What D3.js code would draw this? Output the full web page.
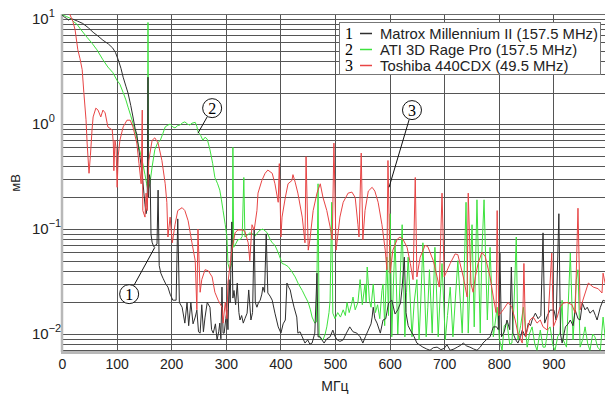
<!DOCTYPE html>
<html>
<head>
<meta charset="utf-8">
<script src="https://cdn.jsdelivr.net/npm/d3@7"></script>
<style>
  body { margin: 0; background: #fff; }
  text { font-family: Arial, "Liberation Sans", sans-serif; }
</style>
</head>
<body>
<div id="chart"></div>
<script>
// spectrum readings: [MHz, mV]
const matroxPts = [[0,11.0],[5,10.4],[8,10.2],[12,9.8],[16,10.1],[20,10.0],[28,9.6],[38,9.1],[48,8.3],[57,7.5],[66,6.9],[75,6.3],[85,5.8],[93,5.3],[98,4.8],[103,4.1],[108,3.4],[112,2.8],[117,2.3],[121,1.97],[126,1.5],[130,1.17],[134,0.9],[137,0.8],[140,0.6],[143,0.48],[146,0.36],[148,0.29],[150,0.22],[152,0.17],[154,0.14],[156,0.16],[157.5,2.8],[158.5,0.2],[160,0.33],[161.5,0.3],[163,0.09],[165,0.075],[168,0.068],[171,0.07],[174,0.072],[176,0.235],[178,0.045],[181,0.038],[185,0.034],[190,0.03],[194,0.028],[198,0.024],[203,0.021],[209,0.021],[212,0.125],[215,0.02],[220,0.018],[225,0.0127],[229,0.02],[232,0.012],[236,0.02],[240,0.0125],[244,0.0145],[247,0.0169],[250,0.0105],[253,0.0102],[256,0.019],[259,0.0105],[262,0.0145],[266,0.02],[271,0.018],[274,0.011],[277,0.0102],[281,0.0125],[284,0.0088],[287,0.0105],[289,0.0127],[291,0.009],[293,0.028],[295,0.0102],[297,0.0102],[300,0.014],[302,0.017],[304,0.011],[306,0.033],[308,0.02],[311,0.117],[313,0.022],[315,0.026],[318,0.019],[321,0.0306],[324,0.016],[326,0.0136],[329,0.015],[332,0.0127],[335,0.014],[339,0.0158],[342,0.0263],[346,0.0136],[349,0.016],[352,0.1],[354,0.02],[357,0.018],[360,0.02],[363,0.021],[366,0.024],[368,0.028],[371,0.025],[374,0.09],[377,0.0246],[381,0.023],[385,0.021],[390,0.0158],[396,0.0117],[401,0.0102],[405,0.0125],[409,0.0136],[412,0.0306],[415,0.028],[418,0.0263],[421,0.022],[425,0.018],[430,0.0145],[432,0.0102],[436,0.0105],[440,0.0094],[445,0.0082],[450,0.0088],[454,0.008],[458,0.0082],[463,0.0102],[467,0.038],[469,0.0094],[473,0.0094],[476,0.0088],[480,0.0082],[485,0.009],[491,0.0094],[496,0.0109],[500,0.0095],[504,0.0088],[509,0.0085],[515,0.0088],[520,0.01],[527,0.0117],[533,0.0105],[540,0.0102],[546,0.0094],[551,0.0082],[556,0.0095],[561,0.0109],[566,0.0125],[568,0.0145],[570,0.018],[573,0.014],[577,0.0127],[583,0.0102],[588,0.0136],[593,0.014],[598,0.0197],[604,0.021],[610,0.0155],[615,0.017],[620,0.0197],[623,0.028],[627,0.054],[630,0.016],[634,0.012],[638,0.0109],[645,0.0094],[650,0.0082],[656,0.0078],[661,0.0075],[668,0.0072],[674,0.007],[680,0.0074],[687,0.0075],[694,0.0071],[700,0.0073],[705,0.0079],[711,0.007],[718,0.0072],[724,0.0075],[730,0.0078],[735,0.0082],[741,0.0077],[747,0.0075],[754,0.0072],[760,0.007],[766,0.0075],[771,0.0082],[777,0.0088],[784,0.0094],[790,0.0117],[796,0.0117],[799,0.011],[802,0.059],[805,0.0094],[810,0.0105],[815,0.0136],[820,0.011],[823,0.0435],[826,0.0102],[831,0.0088],[835,0.0082],[840,0.0095],[843,0.0109],[849,0.0094],[854,0.0127],[858,0.012],[861,0.0136],[867,0.0158],[872,0.014],[877,0.015],[881,0.092],[884,0.0127],[889,0.015],[894,0.0169],[901,0.0169],[905,0.0136],[910,0.14],[913,0.01],[916,0.0082],[922,0.0117],[927,0.0125],[931,0.0136],[936,0.012],[940,0.0169],[945,0.014],[949,0.0136],[953,0.0197],[958,0.017],[962,0.018],[967,0.0158],[973,0.0169],[977,0.015],[980,0.0136],[986,0.018],[991,0.021],[1000,0.02]];

const atiPts = [[0,11.0],[8,10.6],[15,10.2],[22,9.4],[27,9.0],[35,7.9],[46,6.7],[55,5.9],[64,5.1],[75,4.1],[84,3.5],[93,3.1],[101,2.6],[106,2.4],[112,2.0],[117,1.7],[121,1.45],[126,1.2],[130,1.02],[135,0.82],[139,0.66],[144,0.52],[148,0.42],[152,0.33],[155,0.27],[157,0.24],[157.5,9.3],[158.3,0.24],[161,0.27],[165,0.39],[170,0.57],[175,0.66],[180,0.7],[185,0.82],[189,0.94],[194,0.98],[198,1.0],[203,0.94],[207,0.92],[212,0.97],[216,0.98],[221,1.03],[225,1.05],[230,1.0],[234,0.98],[238,1.02],[244,1.04],[247,0.95],[249,0.85],[254,0.78],[258,0.7],[262,0.75],[266,0.72],[271,0.57],[276,0.42],[280,0.31],[285,0.27],[289,0.235],[292,0.19],[295,0.15],[299,0.11],[302,0.084],[304,0.047],[307,0.041],[310,0.045],[312,0.05],[313,0.6],[314.5,0.067],[318,0.072],[322,0.079],[327,0.08],[330,0.085],[333,0.31],[335,0.084],[340,0.088],[344,0.092],[349,0.09],[354,0.086],[358,0.092],[363,0.098],[368,0.1],[372,0.096],[376,0.092],[381,0.08],[385,0.074],[390,0.07],[394,0.063],[398,0.056],[403,0.047],[408,0.046],[414,0.044],[420,0.04],[427,0.035],[433,0.03],[440,0.026],[445,0.023],[451,0.02],[455,0.017],[458,0.0145],[463,0.0127],[466,0.013],[469,0.27],[471,0.0094],[475,0.009],[478,0.0088],[482,0.01],[485,0.0117],[489,0.016],[491,0.021],[494,0.18],[496,0.0158],[500,0.014],[505,0.016],[510,0.0145],[515,0.017],[519,0.015],[522,0.02],[526,0.016],[530,0.019],[533,0.0225],[537,0.017],[542,0.02],[546,0.033],[550,0.019],[555,0.03],[557,0.02],[559,0.0435],[563,0.021],[566,0.018],[570,0.03],[574,0.016],[578,0.019],[582,0.014],[586,0.026],[588,0.03],[591,0.012],[595,0.054],[598,0.015],[601,0.14],[604,0.0094],[607,0.03],[610,0.079],[615,0.01],[619,0.03],[623,0.11],[628,0.0094],[631,0.025],[634,0.054],[641,0.0094],[645,0.02],[650,0.033],[654,0.0088],[657,0.02],[661,0.074],[667,0.0094],[670,0.018],[673,0.041],[678,0.0102],[683,0.067],[689,0.0094],[692,0.02],[696,0.047],[702,0.0088],[706,0.015],[711,0.028],[716,0.0094],[720,0.02],[725,0.05],[733,0.0102],[736,0.03],[740,0.18],[744,0.0102],[748,0.04],[751,0.11],[755,0.0117],[760,0.19],[766,0.0102],[769,0.06],[773,0.19],[779,0.0136],[784,0.067],[790,0.0094],[797,0.018],[801,0.009],[806,0.007],[810,0.012],[815,0.0127],[820,0.008],[824,0.0082],[828,0.02],[832,0.084],[835,0.0088],[840,0.012],[845,0.018],[852,0.0075],[856,0.01],[861,0.0117],[866,0.008],[870,0.007],[876,0.0109],[881,0.0075],[885,0.0075],[890,0.011],[894,0.0117],[899,0.0078],[903,0.007],[908,0.0095],[912,0.0102],[916,0.021],[918,0.0088],[924,0.0075],[931,0.059],[936,0.0088],[942,0.033],[945,0.041],[949,0.0075],[954,0.009],[958,0.0117],[963,0.008],[967,0.007],[972,0.01],[976,0.0094],[981,0.0075],[986,0.007],[991,0.0145],[995,0.009],[1000,0.012]];

const toshibaPts = [[14,11.2],[20,9.5],[24,7.9],[29,5.1],[33,4.2],[37,3.3],[40,2.0],[44,1.1],[46,0.66],[49.5,0.34],[52,0.5],[55,0.88],[57,1.17],[62,1.42],[66,1.36],[71,1.17],[75,1.36],[79,1.28],[84,0.94],[92,0.88],[94,0.66],[95,0.36],[97,0.7],[99,0.6],[101,0.25],[103,0.5],[106,0.7],[112,0.94],[119,1.09],[125,1.09],[130,0.94],[137,0.66],[141,0.42],[145,0.27],[147,1.36],[148,0.15],[152,0.13],[154,0.22],[156,0.15],[159,0.45],[165,0.7],[170,0.74],[176,0.66],[183,0.45],[189,0.27],[192,0.18],[194,0.084],[198,0.13],[202,0.074],[207,0.11],[212,0.15],[220,0.16],[225,0.15],[231,0.12],[238,0.074],[244,0.05],[247,0.017],[249,0.1],[253,0.025],[256,0.033],[262,0.041],[268,0.04],[275,0.035],[280,0.025],[286,0.021],[293,0.018],[295,0.0127],[299,0.02],[302,0.014],[304,0.031],[311,0.063],[317,0.092],[322,0.098],[330,0.098],[335,0.095],[341,0.074],[344,0.05],[348,0.11],[352,0.098],[357,0.15],[359,0.22],[366,0.29],[372,0.34],[377,0.365],[385,0.34],[390,0.27],[396,0.18],[398,0.42],[401,0.084],[403,0.13],[409,0.2],[414,0.27],[421,0.29],[423,0.33],[427,0.28],[432,0.22],[440,0.13],[445,0.074],[447,0.49],[451,0.063],[454,0.079],[460,0.15],[467,0.22],[473,0.27],[478,0.2],[485,0.15],[491,0.105],[495,0.079],[498,0.66],[502,0.063],[509,0.13],[515,0.18],[524,0.22],[531,0.225],[537,0.2],[542,0.11],[544,0.084],[548,0.53],[551,0.079],[555,0.15],[561,0.23],[568,0.25],[573,0.23],[579,0.18],[586,0.11],[592,0.063],[595,0.041],[597,0.45],[601,0.038],[606,0.063],[614,0.08],[619,0.084],[625,0.079],[632,0.067],[638,0.047],[643,0.033],[647,0.31],[650,0.035],[656,0.054],[665,0.07],[670,0.068],[680,0.05],[687,0.035],[691,0.028],[696,0.22],[700,0.035],[711,0.047],[720,0.058],[725,0.057],[735,0.035],[742,0.0225],[744,0.22],[749,0.03],[753,0.025],[757,0.035],[762,0.047],[769,0.06],[775,0.055],[784,0.035],[790,0.0225],[795,0.016],[797,0.15],[800,0.015],[808,0.017],[817,0.02],[824,0.018],[830,0.0136],[835,0.0102],[843,0.0082],[846,0.047],[849,0.0094],[857,0.0136],[863,0.0145],[870,0.0127],[876,0.0136],[881,0.0117],[889,0.0109],[897,0.059],[900,0.0117],[907,0.0145],[912,0.018],[918,0.0197],[925,0.02],[934,0.019],[940,0.0158],[945,0.158],[949,0.017],[954,0.021],[964,0.0306],[973,0.028],[982,0.027],[989,0.0246],[991,0.038],[995,0.03],[1000,0.03]];

const seriesNames = ["Matrox Millennium II (157.5 MHz)", "ATI 3D Rage Pro (157.5 MHz)", "Toshiba 440CDX (49.5 MHz)"];
const seriesColors = ["#2e2e2e", "#3ee23e", "#e84545"];
const xTicks = [0, 100, 200, 300, 400, 500, 600, 700, 800, 900];
const xGrid = [100, 200, 300, 400, 500, 600, 700, 800, 900, 1000];
const yDecades = [0.01, 0.1, 1, 10];
const yExponents = ["\u22122", "\u22121", "0", "1"];
// callouts: [label, circle MHz, circle mV, tip MHz, tip mV]
const callouts = [["1", 123, 0.024, 170, 0.067], ["2", 275, 1.42, 249, 0.82], ["3", 641, 1.36, 599, 0.25]];

const W = 605, H = 394;
const margin = { top: 14, right: -3, bottom: 42, left: 62 };
const width = W - margin.left - margin.right;
const height = H - margin.top - margin.bottom;

const svg = d3.select("#chart").append("svg")
  .attr("width", W).attr("height", H);
const g = svg.append("g")
  .attr("transform", "translate(" + margin.left + "," + margin.top + ")");

const x = d3.scaleLinear().domain([0, 1000]).range([0, width]);
const y = d3.scaleLog().domain([0.00674, 11.2]).range([height, 0]);

// log grid lines 1..9 per decade
const yGrid = [];
[0.001, 0.01, 0.1, 1, 10].forEach(function(dec) {
  for (let k = 1; k <= 9; k++) {
    const v = +(dec * k).toPrecision(3);
    if (v >= y.domain()[0] && v <= y.domain()[1]) yGrid.push(v);
  }
});

g.append("g").selectAll("line").data(yGrid).enter().append("line")
  .attr("x1", 0).attr("x2", width)
  .attr("y1", d => Math.round(y(d)) + 0.5).attr("y2", d => Math.round(y(d)) + 0.5)
  .attr("stroke", "#555").attr("stroke-width", 1);

g.append("g").selectAll("line").data(xGrid).enter().append("line")
  .attr("x1", d => Math.round(x(d)) + 0.5).attr("x2", d => Math.round(x(d)) + 0.5)
  .attr("y1", 0).attr("y2", height)
  .attr("stroke", "#555").attr("stroke-width", 1);

// top edge
g.append("line").attr("x1", 0).attr("x2", width).attr("y1", 0.5).attr("y2", 0.5)
  .attr("stroke", "#6a6a6a");

// axis frame (left + bottom)
g.append("line").attr("x1", 0).attr("x2", 0).attr("y1", 0).attr("y2", height)
  .attr("stroke", "#b8b8b8").attr("stroke-width", 2.5);
g.append("line").attr("x1", -1).attr("x2", width).attr("y1", height + 0.5).attr("y2", height + 0.5)
  .attr("stroke", "#b8b8b8").attr("stroke-width", 3);

// series
g.append("clipPath").attr("id", "clip").append("rect")
  .attr("width", width).attr("height", height);
const line = d3.line().x(d => x(d[0])).y(d => y(d[1]));
const plot = g.append("g").attr("clip-path", "url(#clip)");
[[atiPts, 1], [matroxPts, 0], [toshibaPts, 2]].forEach(function(s) {
  plot.append("path").datum(s[0])
    .attr("fill", "none")
    .attr("stroke", seriesColors[s[1]])
    .attr("stroke-width", 1)
    .attr("stroke-linejoin", "round")
    .attr("d", line);
});

// x axis labels
const xAxis = g.append("g").attr("transform", "translate(0," + height + ")")
  .call(d3.axisBottom(x).tickValues(xTicks).tickSize(0).tickPadding(7));
xAxis.select(".domain").remove();
xAxis.selectAll("text").attr("font-size", 14).attr("fill", "#222")
  .style("font-family", "Arial, 'Liberation Sans', sans-serif");

// y axis labels 10^n
const yLab = g.append("g").selectAll("text").data(yDecades).enter().append("text")
  .attr("x", -30).attr("y", d => y(d) + 5)
  .attr("font-size", 15).attr("fill", "#222");
yLab.append("tspan").text("10");
yLab.append("tspan").attr("dy", -7).attr("font-size", 11)
  .text((d, i) => yExponents[i]);

// axis titles
svg.append("text").attr("x", margin.left + width / 2).attr("y", 391)
  .attr("text-anchor", "middle").attr("font-size", 14).attr("fill", "#222")
  .text("МГц");
svg.append("text").attr("transform", "translate(20," + (margin.top + height / 2) + ") rotate(-90)")
  .attr("text-anchor", "middle").attr("font-size", 13).attr("fill", "#222")
  .text("мВ");

// callouts
const co = g.append("g");
callouts.forEach(function(c) {
  const cx = x(c[1]), cy = y(c[2]), tx = x(c[3]), ty = y(c[4]);
  const ang = Math.atan2(ty - cy, tx - cx);
  co.append("line")
    .attr("x1", cx + 10 * Math.cos(ang)).attr("y1", cy + 10 * Math.sin(ang))
    .attr("x2", tx).attr("y2", ty)
    .attr("stroke", "#111").attr("stroke-width", 1);
  co.append("circle").attr("cx", cx).attr("cy", cy).attr("r", 9.5)
    .attr("fill", "#fff").attr("stroke", "#111").attr("stroke-width", 1);
  co.append("text").attr("x", cx).attr("y", cy + 5.5)
    .attr("text-anchor", "middle").attr("font-size", 16)
    .style("font-family", "'Liberation Serif', 'Times New Roman', serif")
    .text(c[0]);
});

// legend
const lg = svg.append("g").attr("transform", "translate(339,22)");
lg.append("rect").attr("x", 0.5).attr("y", 0.5).attr("width", 261).attr("height", 52)
  .attr("fill", "#fff").attr("stroke", "#777");
seriesNames.forEach(function(name, i) {
  const ry = 11 + i * 16;
  lg.append("text").attr("x", 10).attr("y", ry + 5.5)
    .attr("text-anchor", "middle").attr("font-size", 16)
    .style("font-family", "'Liberation Serif', 'Times New Roman', serif")
    .text(i + 1);
  lg.append("line").attr("x1", 21).attr("x2", 33).attr("y1", ry + 0.5).attr("y2", ry + 0.5)
    .attr("stroke", seriesColors[i]).attr("stroke-width", 1.5);
  lg.append("text").attr("x", 41).attr("y", ry + 5.5)
    .attr("font-size", 14.8).attr("fill", "#222").text(name);
});
</script>
</body>
</html>
